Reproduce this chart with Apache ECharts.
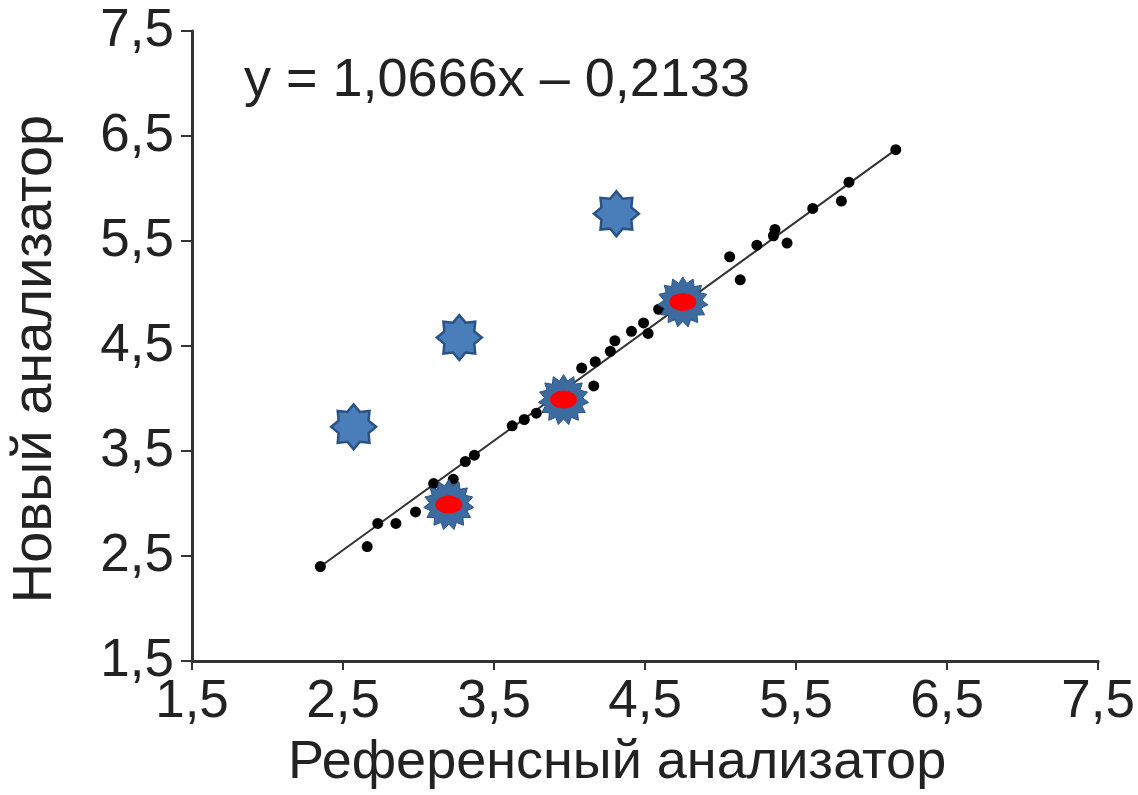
<!DOCTYPE html>
<html>
<head>
<meta charset="utf-8">
<script src="https://cdn.jsdelivr.net/npm/echarts@6/dist/echarts.min.js"></script>
<style>
  html, body { margin: 0; padding: 0; background: #fff; }
  #chart { width: 1138px; height: 795px; }
</style>
</head>
<body>
<div id="chart"></div>
<script>
// оси
let axisMin = 1.5
let axisMax = 7.5
let axisStep = 1

// черные точки: референсный / новый анализатор
let dotsRef = [2.35, 2.66, 2.73, 2.85, 2.98, 3.10, 3.23, 3.31, 3.37, 3.62, 3.70, 3.78, 4.08, 4.16, 4.17, 4.27, 4.30, 4.41, 4.49, 4.52, 4.59, 5.06, 5.13, 5.24, 5.35, 5.36, 5.44, 5.61, 5.80, 5.85, 6.16]
let dotsNew = [2.40, 2.59, 2.81, 2.81, 2.92, 3.19, 3.23, 3.40, 3.46, 3.74, 3.80, 3.86, 4.29, 4.12, 4.35, 4.45, 4.55, 4.64, 4.72, 4.62, 4.85, 5.35, 5.13, 5.46, 5.55, 5.61, 5.48, 5.81, 5.88, 6.06, 6.37]

// синие звезды (выбросы)
let outRef = [2.57, 3.27, 4.31]
let outNew = [3.73, 4.58, 5.76]

// звезды с красной серединой
let markRef = [3.20, 3.96, 4.75]
let markNew = [2.99, 3.99, 4.92]

// линия регрессии (концы по картинке)
let lineRef = [2.35, 6.16]
let lineNew = [2.40, 6.37]

let equation = 'y = 1,0666x – 0,2133'

function zip(a, b) {
  return a.map(function (v, i) { return [v, b[i]] })
}

// путь звезды для symbol
function starPath(n, inner) {
  let parts = []
  for (let i = 0; i < n * 2; i++) {
    let r = i % 2 === 0 ? 50 : 50 * inner
    let a = Math.PI * i / n - Math.PI / 2
    let x = (50 + r * Math.cos(a)).toFixed(2)
    let y = (50 + r * Math.sin(a)).toFixed(2)
    parts.push((i === 0 ? 'M' : 'L') + x + ' ' + y)
  }
  return 'path://' + parts.join(' ') + ' Z'
}

let font = '"Liberation Sans", Arial, sans-serif'
let axisColor = '#333'
let textColor = '#222'

function fmt(v) {
  return v.toFixed(1).replace('.', ',')
}

let chart = echarts.init(document.getElementById('chart'))
chart.setOption({
  backgroundColor: '#fff',
  animation: false,
  grid: { left: 192, right: 37, top: 31, bottom: 134 },
  xAxis: {
    type: 'value',
    min: axisMin,
    max: axisMax,
    interval: axisStep,
    name: 'Референсный анализатор',
    nameLocation: 'middle',
    nameGap: 75,
    nameTextStyle: { fontFamily: font, fontSize: 54, color: textColor, padding: [0, 56, 0, 0] },
    axisLine: { lineStyle: { color: axisColor, width: 3 } },
    axisTick: { length: 9, lineStyle: { color: axisColor, width: 2 } },
    axisLabel: { fontFamily: font, fontSize: 53, color: textColor, margin: 15, formatter: fmt },
    splitLine: { show: false }
  },
  yAxis: {
    type: 'value',
    min: axisMin,
    max: axisMax,
    interval: axisStep,
    name: 'Новый анализатор',
    nameLocation: 'middle',
    nameGap: 128,
    nameTextStyle: { fontFamily: font, fontSize: 56, color: textColor, padding: [0, 26, 0, 0] },
    axisLine: { lineStyle: { color: axisColor, width: 3 } },
    axisTick: { length: 11, lineStyle: { color: axisColor, width: 2 } },
    axisLabel: { fontFamily: font, fontSize: 53, color: textColor, margin: 18, formatter: fmt },
    splitLine: { show: false }
  },
  graphic: [{
    type: 'text',
    left: 244,
    top: 54,
    style: { text: equation, font: '54px ' + font, fill: textColor }
  }],
  series: [{
    type: 'line',
    data: zip(lineRef, lineNew),
    symbol: 'none',
    lineStyle: { color: '#333', width: 2 },
    z: 2
  }, {
    type: 'scatter',
    data: zip(dotsRef, dotsNew),
    symbol: 'circle',
    symbolSize: 11,
    itemStyle: { color: '#000', opacity: 1 },
    z: 3
  }, {
    type: 'scatter',
    data: zip(outRef, outNew),
    symbol: starPath(8, 0.72),
    symbolSize: 45,
    itemStyle: { color: '#4a7ebb', borderColor: '#2a5384', borderWidth: 2.5, opacity: 1 },
    z: 4
  }, {
    type: 'scatter',
    data: zip(markRef, markNew),
    symbol: starPath(15, 0.76),
    symbolSize: 50,
    itemStyle: { color: '#3d6b9f', borderColor: '#2a5384', borderWidth: 1, opacity: 1 },
    z: 4
  }, {
    type: 'scatter',
    data: zip(markRef, markNew),
    symbol: 'circle',
    symbolSize: [27, 18],
    itemStyle: { color: '#ff0000', opacity: 1 },
    z: 5
  }]
})
</script>
</body>
</html>
